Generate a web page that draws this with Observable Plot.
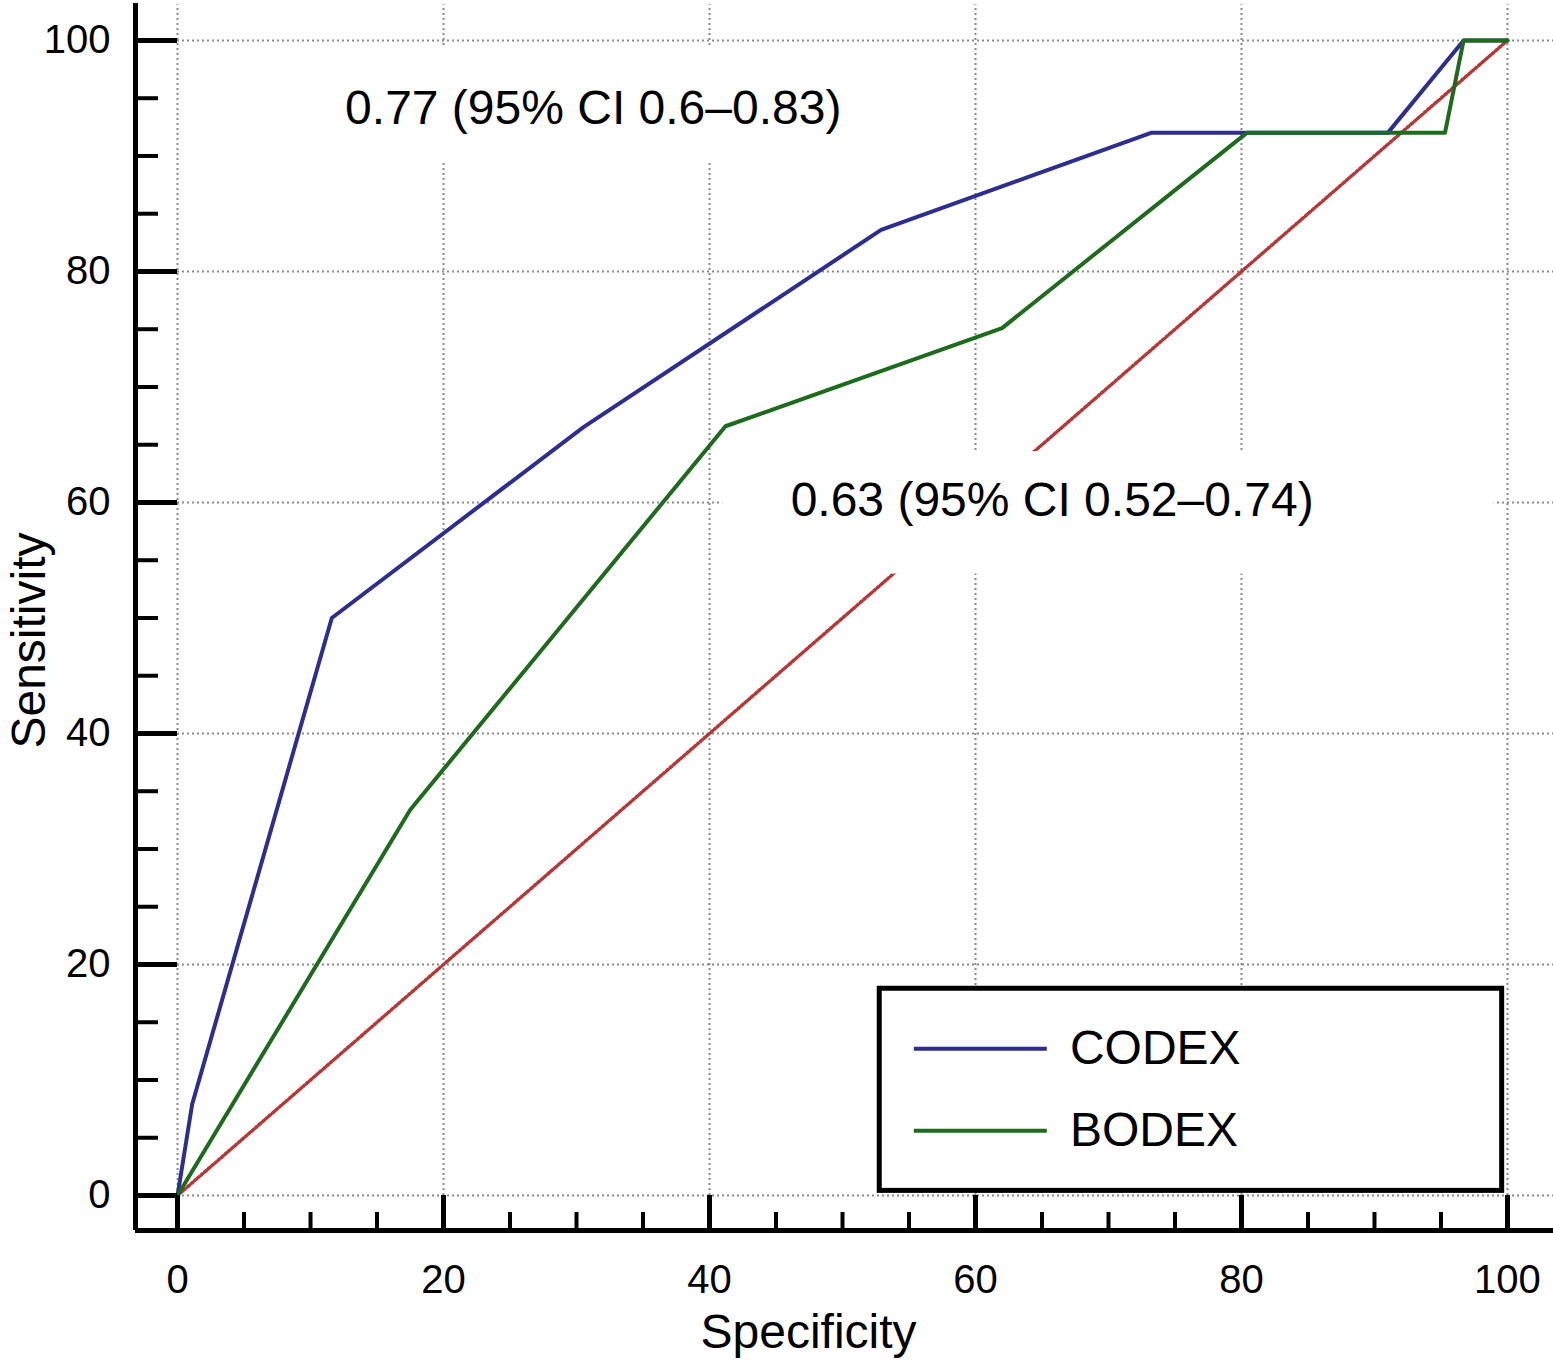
<!DOCTYPE html>
<html>
<head>
<meta charset="utf-8">
<script src="https://cdn.jsdelivr.net/npm/d3@7"></script>
<script src="https://cdn.jsdelivr.net/npm/@observablehq/plot@0.6"></script>
<style>
  body { margin: 0; background: white; }
</style>
</head>
<body>
<div id="chart"></div>
<script>
// ROC curves, values
var codexX = [0, 1.1, 11.6, 30.5, 52.9, 73.2, 91.0, 96.7, 100];
var codexY = [0, 7.9, 50, 66.5, 83.6, 92, 92, 100, 100];
var bodexX = [0, 17.5, 41.2, 62.0, 80.4, 95.3, 96.7, 100];
var bodexY = [0, 33.4, 66.6, 75.1, 92, 92, 100, 100];
var chanceX = [0, 100];
var chanceY = [0, 100];

var majorTicks = [0, 20, 40, 60, 80, 100];
var minorTicks = [5, 10, 15, 25, 30, 35, 45, 50, 55, 65, 70, 75, 85, 90, 95];

var seriesNames = ["CODEX", "BODEX"];
var seriesColors = ["#2e2e92", "#1d6b1d"];
var aucLabels = ["0.77 (95% CI 0.6–0.83)", "0.63 (95% CI 0.52–0.74)"];

// frame limits (axes sit a little outside 0)
var X0 = -3.16, XMAX = 103.46;
var Y0 = -3.03, YMAX = 103.46;

var codex = codexX.map((x, i) => ({x: x, y: codexY[i]}));
var bodex = bodexX.map((x, i) => ({x: x, y: bodexY[i]}));
var chance = chanceX.map((x, i) => ({x: x, y: chanceY[i]}));

// annotation placement
var notes = [
  {text: aucLabels[0], x: 12.6, y: 94.1, bx1: 10, bx2: 58, by1: 89.4, by2: 99.4},
  {text: aucLabels[1], x: 46.1, y: 60.2, bx1: 41, bx2: 99, by1: 53.8, by2: 64.4}
];

// legend placement
var legendBox = {x1: 52.8, x2: 99.6, y1: 0.4, y2: 17.9};
var legendRows = seriesNames.map((name, i) => ({
  name: name, color: seriesColors[i], y: [12.7, 5.6][i]
}));

var grid = {stroke: "#8a8a8a", strokeWidth: 2, strokeDasharray: "2,3"};

var plot = Plot.plot({
  width: 1553,
  height: 1371,
  marginLeft: 135,
  marginRight: 0,
  marginTop: 0,
  marginBottom: 141,
  style: {fontFamily: "'Liberation Sans', Arial, Helvetica, sans-serif", color: "black", background: "white"},
  x: {domain: [X0, XMAX]},
  y: {domain: [Y0, YMAX]},
  marks: [
    // grid
    Plot.ruleX(majorTicks, {x: d => d, y1: 0, y2: 103.1, ...grid}),
    Plot.ruleY(majorTicks, {y: d => d, x1: 0, x2: XMAX, ...grid}),
    // chance diagonal
    Plot.line(chance, {x: "x", y: "y", stroke: "#b83838", strokeWidth: 3.5, strokeDasharray: "2,2.5"}),
    // annotation backgrounds and text
    Plot.rect(notes, {x1: "bx1", x2: "bx2", y1: "by1", y2: "by2", fill: "white"}),
    Plot.text(notes, {x: "x", y: "y", text: "text", textAnchor: "start", fontSize: 48, fill: "black"}),
    // ROC curves
    Plot.line(codex, {x: "x", y: "y", stroke: seriesColors[0], strokeWidth: 4}),
    Plot.line(bodex, {x: "x", y: "y", stroke: seriesColors[1], strokeWidth: 4}),
    // axes frame
    Plot.ruleX([X0], {x: d => d, y1: Y0, y2: 103.2, stroke: "black", strokeWidth: 5}),
    Plot.ruleY([Y0], {y: d => d, x1: X0, x2: XMAX, stroke: "black", strokeWidth: 5}),
    Plot.ruleY(majorTicks, {y: d => d, x1: X0, x2: 0, stroke: "black", strokeWidth: 5}),
    Plot.ruleY(minorTicks, {y: d => d, x1: X0, x2: -1.43, stroke: "black", strokeWidth: 4}),
    Plot.ruleX(majorTicks, {x: d => d, y1: Y0, y2: 0, stroke: "black", strokeWidth: 5}),
    Plot.ruleX(minorTicks, {x: d => d, y1: Y0, y2: -1.47, stroke: "black", strokeWidth: 4}),
    Plot.axisY({ticks: majorTicks, tickSize: 0, tickPadding: 25, fontSize: 40, label: null}),
    Plot.axisX({ticks: majorTicks, tickSize: 0, tickPadding: 34, fontSize: 40, label: null}),
    Plot.text(["Sensitivity"], {text: d => d, frameAnchor: "left", textAnchor: "middle", lineAnchor: "middle",
      rotate: -90, dx: -106, dy: 25, fontSize: 48, fill: "black"}),
    Plot.text(["Specificity"], {text: d => d, frameAnchor: "bottom", textAnchor: "middle", lineAnchor: "middle",
      dx: -36, dy: 102, fontSize: 48, fill: "black"}),
    // legend
    Plot.rect([legendBox], {x1: "x1", x2: "x2", y1: "y1", y2: "y2", fill: "white", stroke: "black", strokeWidth: 5}),
    Plot.ruleY(legendRows, {y: "y", x1: 55.4, x2: 65.4, stroke: "color", strokeWidth: 4}),
    Plot.text(legendRows, {x: 67.1, y: "y", text: "name", textAnchor: "start", fontSize: 48, fill: "black"})
  ]
});

document.getElementById("chart").appendChild(plot);
</script>
</body>
</html>
